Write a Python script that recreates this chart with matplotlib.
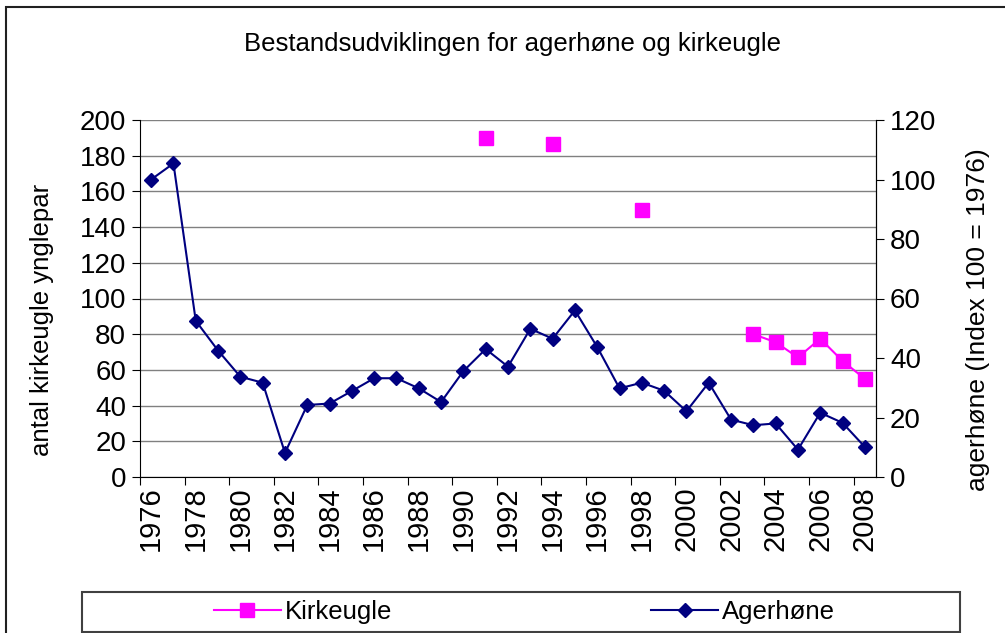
import numpy as np
import matplotlib
matplotlib.use('Agg')
from matplotlib import pyplot as plt
from matplotlib.patches import Rectangle
from matplotlib.lines import Line2D

plt.rcParams['font.family'] = ['Liberation Sans', 'DejaVu Sans']

years = list(range(1976, 2009))
tick_years = [str(y) for y in range(1976, 2009, 2)]

# agerhøne, index (1976 = 100), right axis
agerhone = [100, 105.4, 52.5, 42.5, 33.7, 31.7, 8.1, 24.2, 24.7, 28.9,
            33.2, 33.2, 29.8, 25.2, 35.6, 43.0, 37.1, 49.8, 46.5, 56.0,
            43.7, 29.8, 31.7, 29.0, 22.1, 31.7, 19.3, 17.4, 18.0, 9.2,
            21.6, 18.2, 10.1]

# kirkeugle, number of breeding pairs, left axis (gaps = no count)
kirkeugle_years = [1991, 1994, 1998, 2003, 2004, 2005, 2006, 2007, 2008]
kirkeugle_pairs = [190, 186.5, 149.5, 80, 75.5, 67, 77.5, 65, 55]

pink = '#ff00ff'
navy = '#000080'

x = np.arange(len(years))
kirkeugle = np.full(len(years), np.nan)
for y, v in zip(kirkeugle_years, kirkeugle_pairs):
    kirkeugle[years.index(y)] = v

fig = plt.figure(figsize=(10.05, 6.33), dpi=100)
ax = fig.add_axes([140 / 1005, 1 - 477 / 633, 736 / 1005, 357 / 633])
ax2 = ax.twinx()

ax.plot(x, kirkeugle, color=pink, lw=1.5, marker='s', ms=9.5,
        mec=pink, mfc=pink, zorder=3)
ax2.plot(x, agerhone, color=navy, lw=1.5, marker='D', ms=7.5,
         mec=navy, mfc=navy, zorder=3)

ax.set_xlim(-0.5, len(years) - 0.5)
ax.set_ylim(0, 200)
ax2.set_ylim(0, 120)
ax.set_yticks(np.arange(0, 201, 20))
ax2.set_yticks(np.arange(0, 121, 20))
ax.yaxis.grid(True, color='#808080', lw=1)
ax.set_axisbelow(True)

ax.set_xticks(np.arange(-0.5, len(years) - 1, 2))
ax.set_xticklabels([])
ax.set_xticks(np.arange(0, len(years), 2), minor=True)
ax.set_xticklabels(tick_years, minor=True, rotation=90, fontsize=21)
ax.tick_params(axis='x', which='minor', length=0, pad=7)
ax.tick_params(axis='x', which='major', length=6, direction='out')
ax.tick_params(axis='y', labelsize=20, length=6, direction='out', pad=4)
ax2.tick_params(axis='y', labelsize=20, length=6, direction='out', pad=4)

for a in (ax, ax2):
    a.spines['top'].set_visible(False)
ax2.spines['left'].set_visible(False)
ax2.spines['bottom'].set_visible(False)

ax.set_ylabel('antal kirkeugle ynglepar', fontsize=18.5)
ax2.set_ylabel('agerhøne (Index 100 = 1976)', fontsize=19)
ax.yaxis.set_label_coords(-0.117, 0.44)
ax2.yaxis.set_label_coords(1.122, 0.44)

fig.text(512 / 1005, 1 - 44 / 633, 'Bestandsudviklingen for agerhøne og kirkeugle',
         ha='center', va='center', fontsize=18.5)

# outer chart border and legend frame
fig.patches.append(Rectangle((6 / 1005, -0.1), 1.2, 1 - 7 / 633 + 0.1,
                             transform=fig.transFigure, fill=False,
                             ec='#202020', lw=1.5))
fig.patches.append(Rectangle((82 / 1005, 1 - 632 / 633), 878 / 1005, 40 / 633,
                             transform=fig.transFigure, fill=False,
                             ec='#404040', lw=1.5))

h1 = Line2D([], [], color=pink, lw=1.5, marker='s', ms=9.5, mec=pink, mfc=pink)
h2 = Line2D([], [], color=navy, lw=1.5, marker='D', ms=7.5, mec=navy, mfc=navy)
fig.legend([h1], ['Kirkeugle'], loc='center', frameon=False, fontsize=18.5,
           bbox_to_anchor=(303 / 1005, 1 - 612 / 633), handlelength=2.6,
           handletextpad=0.15, borderpad=0)
fig.legend([h2], ['Agerhøne'], loc='center', frameon=False, fontsize=18.5,
           bbox_to_anchor=(743 / 1005, 1 - 612 / 633), handlelength=2.6,
           handletextpad=0.15, borderpad=0)

fig.savefig('out.png', dpi=100)
